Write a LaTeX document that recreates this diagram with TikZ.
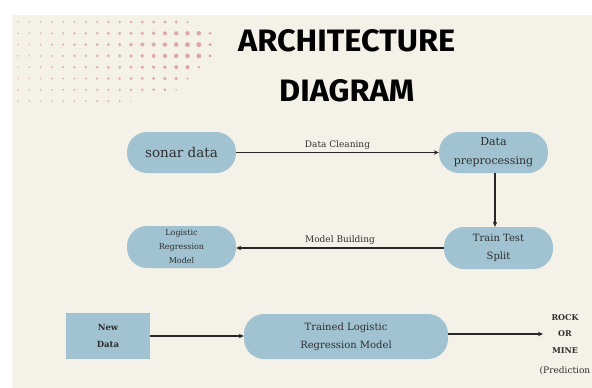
\documentclass[tikz,border=0pt]{standalone}
\usepackage{graphicx}
\usepackage{fontspec}
\setmainfont{DejaVu Serif}
\newfontfamily\titlefont{Fira Sans}
\usetikzlibrary{arrows.meta,calc}
\definecolor{panel}{HTML}{F4F1E9}
\definecolor{boxfill}{HTML}{A1C3D1}
\definecolor{dotpink}{HTML}{DDA2A9}
\definecolor{txt}{HTML}{2E2E2E}
\begin{document}
\begin{tikzpicture}[x=1pt,y=-1pt,
  pill/.style={fill=boxfill, rounded corners=20pt, minimum width=109pt, minimum height=41pt, inner sep=0pt, align=center, text=txt},
  sq/.style={fill=boxfill, minimum width=84pt, minimum height=46pt, inner sep=0pt, align=center, text=txt},
  arr/.style={draw=black!85, line width=1.1pt, -{Stealth[length=5pt,width=4.5pt]}},
  lbl/.style={text=txt, inner sep=0pt, font=\fontsize{9pt}{11pt}\selectfont}
]
\useasboundingbox (0,0) rectangle (592,388);
\clip (0,0) rectangle (592,388);
\fill[white] (0,0) rectangle (592,388);
\fill[panel] (12,15) rectangle (592,388);
% halftone dots
\foreach \i/\m/\v in {0/15/0.55, 1/17/0.85, 2/17/1, 3/17/0.95, 4/16/0.8, 5/15/0.6, 6/14/0.45, 7/10/0.2} {
  \foreach \j in {0,...,\m} {
    \pgfmathsetmacro\r{(0.95+1.45*\v*\j/15)*((\j==\m) ? 0.6 : 1)}
    \pgfmathsetmacro\op{0.65+0.35*\j/17}
    \fill[dotpink, opacity=\op] ({18+11.3*\j},{22+11.3*\i}) circle[radius=\r];
  }
}
% title
\node[anchor=south west, inner sep=0pt] (t1) at (238,52) {\resizebox{217pt}{22pt}{\titlefont\bfseries ARCHITECTURE}};
\node[anchor=south west, inner sep=0pt] (t2) at (279,102) {\resizebox{135pt}{22pt}{\titlefont\bfseries DIAGRAM}};
% nodes
\node[pill, font=\fontsize{13.5pt}{15pt}\selectfont] (sonar) at (181.5,152.5) {sonar data};
\node[pill, font=\fontsize{11pt}{19pt}\selectfont] (prep) at (493.5,152.5) {Data\\preprocessing};
\node[pill, minimum height=42pt, font=\fontsize{10pt}{18pt}\selectfont] (split) at (498.5,248) {Train Test\\Split};
\node[pill, minimum height=42pt, font=\fontsize{8pt}{14pt}\selectfont] (logit) at (181.5,247) {Logistic\\Regression\\Model};
\node[sq, font=\fontsize{8.5pt}{17pt}\selectfont\bfseries] (newd) at (108,336) {New\\Data};
\node[pill, minimum width=204pt, minimum height=45pt, font=\fontsize{10pt}{18pt}\selectfont] (trained) at (346,336.5) {Trained Logistic\\Regression Model};
\node[align=center, text=txt, inner sep=0pt, font=\fontsize{8pt}{16.7pt}\selectfont\bfseries] (out) at (565,334) {ROCK\\OR\\MINE};
\node[anchor=west, text=txt, inner sep=0pt, font=\fontsize{9pt}{11pt}\selectfont] (pred) at (539.5,371) {(Prediction};
% connectors
\draw[arr] (sonar.east) -- (prep.west) node[lbl, midway, anchor=base, yshift=5pt] (lclean) {Data Cleaning};
\draw[arr] ([xshift=1.5pt]prep.south) -- ([xshift=-3.5pt]split.north);
\draw[arr] (split.west) -- (split.west -| logit.east) node[lbl, midway, anchor=base, yshift=6pt] (lbuild) {Model Building};
\draw[arr] (newd.east) -- (newd.east -| trained.west);
\coordinate (outtip) at (543,334);
\draw[arr] (trained.east |- outtip) -- (outtip);
\end{tikzpicture}
\end{document}
